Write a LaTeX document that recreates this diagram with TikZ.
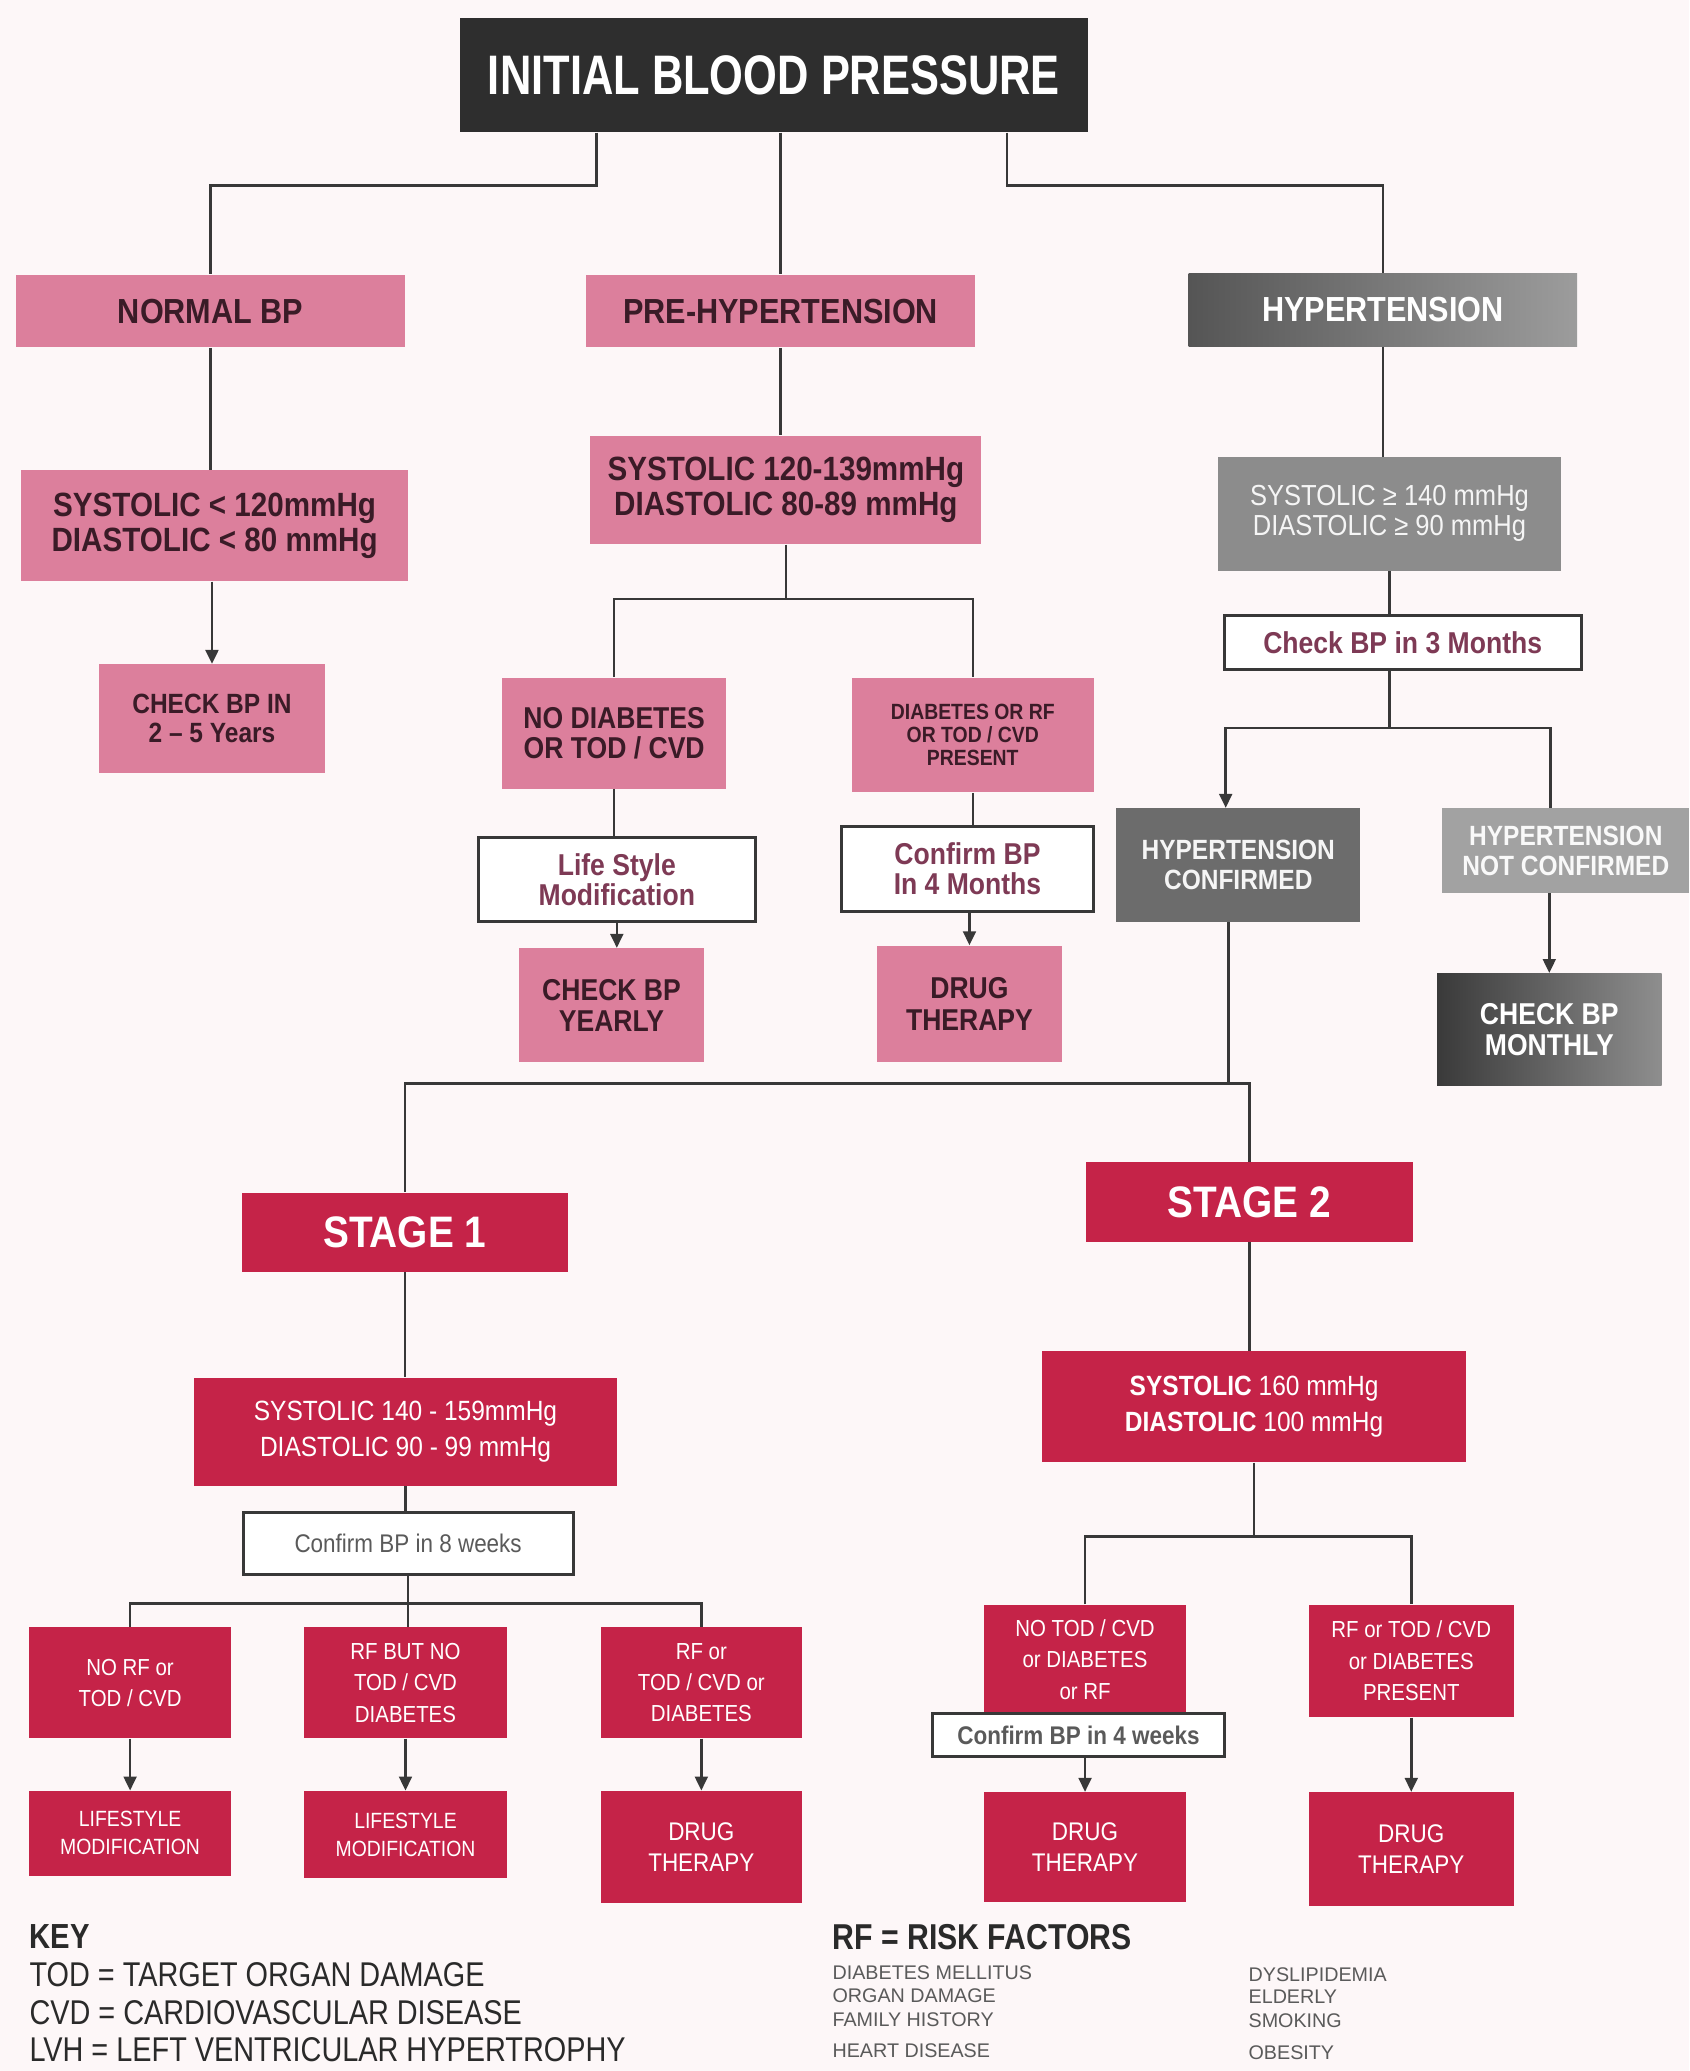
\documentclass[tikz,border=0pt]{standalone}
\usepackage{fontspec}
\setmainfont{Liberation Sans}
\newfontfamily\cf{Liberation Sans}[FakeStretch=0.88]
\newfontfamily\cft{Liberation Sans}[FakeStretch=0.78]
\newfontfamily\cfk{Liberation Sans}[FakeStretch=0.84]
\usetikzlibrary{arrows.meta,calc}
\newcommand\myfs[2]{\fontsize{#1}{#2}\selectfont}
\definecolor{bg}{HTML}{FDF7F8}
\definecolor{pinkf}{HTML}{DC7F9C}
\definecolor{crim}{HTML}{C52348}
\definecolor{lnc}{HTML}{383838}
\definecolor{darktx}{HTML}{3A1B27}
\definecolor{maroon}{HTML}{7E3A55}
\definecolor{txgray}{HTML}{5A5A5A}
\definecolor{titlec}{HTML}{2E2E2E}
\definecolor{hypl}{HTML}{555555}
\definecolor{hypr}{HTML}{9C9C9C}
\definecolor{gsys}{HTML}{8C8C8C}
\definecolor{gconf}{HTML}{6C6C6C}
\definecolor{gnot}{HTML}{A2A2A2}
\definecolor{gmonl}{HTML}{3A3A3A}
\definecolor{gmonr}{HTML}{8E8E8E}
\definecolor{keytx}{HTML}{2A2A2A}
\begin{document}
\begin{tikzpicture}[x=0.02cm,y=-0.02cm,
  sz/.style 2 args={minimum width=#1*0.02cm, minimum height=#2*0.02cm},
  bx/.style={rectangle, inner sep=0pt, align=center},
  pinkbox/.style={bx, fill=pinkf, text=darktx, font=\cf\bfseries\myfs{13}{13.5}},
  crimbox/.style={bx, fill=crim, text=white, font=\cf\myfs{10}{13.5}},
  whitebox/.style={bx, fill=white, draw=lnc, line width=1.3pt, text=maroon, font=\cf\bfseries\myfs{13}{13}},
  conn/.style={draw=lnc, line width=1.1pt},
  arr/.style={conn, -{Triangle[width=5.5pt,length=6pt]}},
  keytext/.style={anchor=base west, inner sep=0pt, text=keytx, font=\cfk\myfs{14.8}{14.8}},
  rftext/.style={anchor=base west, inner sep=0pt, text=txgray, font=\normalfont\myfs{8.5}{8.5}}
]
\useasboundingbox[fill=bg] (0,0) rectangle (1279,1568);

% top level
\node[bx, fill=titlec, text=white, font=\cft\bfseries\myfs{24}{26}, sz={476}{86}] (title) at (586,57) {INITIAL BLOOD PRESSURE};
\node[pinkbox, font=\cf\bfseries\myfs{15}{15}, sz={295}{55}] (normal) at (159.5,235.5) {NORMAL BP};
\node[pinkbox, font=\cf\bfseries\myfs{15}{15}, sz={294}{55}] (prehyp) at (591,235.5) {PRE-HYPERTENSION};
\node[bx, left color=hypl, right color=hypr, text=white, font=\cf\bfseries\myfs{15}{15}, sz={294}{55}] (hyp) at (1047,234.5) {HYPERTENSION};

% normal branch
\node[pinkbox, font=\cf\bfseries\myfs{14.5}{15}, sz={293}{84}] (sys1) at (162.5,398) {SYSTOLIC < 120mmHg\\DIASTOLIC < 80 mmHg};
\node[pinkbox, font=\cf\bfseries\myfs{12}{12.5}, sz={171}{82}] (chk25) at (160.5,544) {CHECK BP IN\\2 – 5 Years};

% pre-hypertension branch
\node[pinkbox, font=\cf\bfseries\myfs{14.5}{15}, sz={296}{82}] (sys2) at (595,371) {SYSTOLIC 120-139mmHg\\DIASTOLIC 80-89 mmHg};
\node[pinkbox, font=\cf\bfseries\myfs{13}{13}, sz={170}{84}] (nodiab) at (465,555) {NO DIABETES\\OR TOD / CVD};
\node[pinkbox, font=\cf\bfseries\myfs{9.5}{10}, sz={183}{87}] (diab) at (736.5,556.5) {DIABETES OR RF\\OR TOD / CVD\\PRESENT};
\node[whitebox, sz={210}{64}] (life) at (467,666) {Life Style\\Modification};
\node[pinkbox, sz={140}{86}] (yearly) at (463,761) {CHECK BP\\YEARLY};
\node[whitebox, sz={191}{64}] (conf4m) at (732.5,658) {Confirm BP\\In 4 Months};
\node[pinkbox, sz={140}{88}] (drug1) at (734,760) {DRUG\\THERAPY};

% hypertension branch
\node[bx, fill=gsys, text=white!92!gray, font=\cf\myfs{12.5}{13}, sz={260}{86}] (sys3) at (1052,389) {SYSTOLIC ≥ 140 mmHg\\DIASTOLIC ≥ 90 mmHg};
\node[whitebox, sz={270}{41}] (chk3m) at (1062,486.5) {Check BP in 3 Months};
\node[bx, fill=gconf, text=white!92!gray, font=\cf\bfseries\myfs{12}{13}, sz={185}{86}] (hconf) at (937.5,655) {HYPERTENSION\\CONFIRMED};
\node[bx, fill=gnot, text=white!95!gray, font=\cf\bfseries\myfs{12}{13}, sz={187}{64}] (hnot) at (1185.5,644) {HYPERTENSION\\NOT CONFIRMED};
\node[bx, left color=gmonl, right color=gmonr, text=white, font=\cf\bfseries\myfs{13}{13.5}, sz={170}{85}] (monthly) at (1173,779.5) {CHECK BP\\MONTHLY};

% stages
\node[bx, fill=crim, text=white, font=\cf\bfseries\myfs{19}{19}, sz={247}{60}] (stage1) at (306.5,933) {STAGE 1};
\node[bx, fill=crim, text=white, font=\cf\bfseries\myfs{19}{19}, sz={248}{60}] (stage2) at (946,910) {STAGE 2};

% stage 1 branch
\node[crimbox, font=\cf\myfs{12}{15.5}, sz={320}{82}] (sys4) at (307,1084) {SYSTOLIC 140 - 159mmHg\\DIASTOLIC 90 - 99 mmHg};
\node[whitebox, text=txgray, font=\cf\myfs{11}{11}, sz={250}{47}] (conf8w) at (309,1168.5) {Confirm BP in 8 weeks};
\node[crimbox, sz={153}{84}] (a1) at (98.5,1274) {NO RF or\\TOD / CVD};
\node[crimbox, sz={154}{84}] (a2) at (307,1274) {RF BUT NO\\TOD / CVD\\DIABETES};
\node[crimbox, sz={152}{84}] (a3) at (531,1274) {RF or\\TOD / CVD or\\DIABETES};
\node[crimbox, font=\cf\myfs{9.5}{12}, sz={153}{64}] (b1) at (98.5,1388) {LIFESTYLE\\MODIFICATION};
\node[crimbox, font=\cf\myfs{9.5}{12}, sz={154}{66}] (b2) at (307,1389) {LIFESTYLE\\MODIFICATION};
\node[crimbox, font=\cf\myfs{11}{13}, sz={152}{85}] (b3) at (531,1398.5) {DRUG\\THERAPY};

% stage 2 branch
\node[crimbox, font=\cf\myfs{12}{15.5}, sz={321}{84}] (sys5) at (949.5,1065) {\textbf{SYSTOLIC} 160 mmHg\\\textbf{DIASTOLIC} 100 mmHg};
\node[crimbox, sz={153}{83}] (c1) at (821.5,1256.5) {NO TOD / CVD\\or DIABETES\\or RF};
\node[whitebox, text=txgray, font=\cf\bfseries\myfs{11}{11}, sz={221}{33}] (conf4w) at (816.5,1313.5) {Confirm BP in 4 weeks};
\node[crimbox, font=\cf\myfs{11}{13}, sz={153}{83}] (d1) at (821.5,1398.5) {DRUG\\THERAPY};
\node[crimbox, sz={155}{85}] (c2) at (1068.5,1257.5) {RF or TOD / CVD\\or DIABETES\\PRESENT};
\node[crimbox, font=\cf\myfs{11}{13}, sz={155}{86}] (d2) at (1068.5,1400) {DRUG\\THERAPY};

% key
\node[keytext, font=\cfk\bfseries\myfs{15}{15}] (key) at (22,1475) {KEY};
\node[keytext] (k1) at (22,1504) {TOD = TARGET ORGAN DAMAGE};
\node[keytext] (k2) at (22,1533) {CVD = CARDIOVASCULAR DISEASE};
\node[keytext] (k3) at (22,1561) {LVH = LEFT VENTRICULAR HYPERTROPHY};
\node[keytext, font=\cfk\bfseries\myfs{15.5}{15.5}] (rf) at (630,1476) {RF = RISK FACTORS};
\node[rftext] (r1) at (630,1499) {DIABETES MELLITUS};
\node[rftext] (r2) at (630,1516) {ORGAN DAMAGE};
\node[rftext] (r3) at (630,1534) {FAMILY HISTORY};
\node[rftext] (r4) at (630,1558) {HEART DISEASE};
\node[rftext] (r5) at (945,1500) {DYSLIPIDEMIA};
\node[rftext] (r6) at (945,1517) {ELDERLY};
\node[rftext] (r7) at (945,1535) {SMOKING};
\node[rftext] (r8) at (945,1559) {OBESITY};

% connectors
\draw[conn] ($(title.south west)+(104,0)$) -- ++(0,40) -| (normal.north);
\draw[conn] (title.south -| prehyp.north) -- (prehyp.north);
\draw[conn] ($(title.south east)+(-62,0)$) -- ++(0,40) -| (hyp.north);
\draw[conn] (normal.south) -- (normal.south |- sys1.north);
\draw[arr] (sys1.south -| chk25.north) -- (chk25.north);
\draw[conn] (prehyp.south) -- (prehyp.south |- sys2.north);
\draw[conn] (sys2.south) -- ++(0,41) coordinate (j1);
\draw[conn] (nodiab.north) |- (j1) -| (diab.north);
\draw[conn] (nodiab.south) -- (nodiab.south |- life.north);
\draw[arr] (life.south) -- (life.south |- yearly.north);
\draw[conn] (diab.south) -- (diab.south |- conf4m.north);
\draw[arr] (conf4m.south -| drug1.north) -- (drug1.north);
\draw[conn] (hyp.south) -- (hyp.south |- sys3.north);
\draw[conn] (sys3.south) -- (sys3.south |- chk3m.north);
\draw[conn] (chk3m.south -| sys3.south) -- ++(0,43) coordinate (j2);
\coordinate (hca) at ($(hconf.north)+(-9.5,0)$);
\coordinate (hna) at ($(hnot.north)+(-11.5,0)$);
\draw[arr] (j2) -| (hca);
\draw[conn] (j2) -| (hna);
\draw[arr] (hnot.south -| monthly.north) -- (monthly.north);
\draw[conn] ($(hconf.south)+(-7.5,0)$) -- ++(0,122) coordinate (j3);
\draw[conn] (stage1.north) |- (j3) -| (stage2.north);
\draw[conn] (stage1.south) -- (stage1.south |- sys4.north);
\draw[conn] (sys4.south) -- (sys4.south |- conf8w.north);
\draw[conn] (conf8w.south) -- ++(0,21) coordinate (j4);
\draw[conn] (a1.north) |- (j4) -| (a3.north);
\draw[conn] (j4) -- (j4 |- a2.north);
\draw[arr] (a1.south) -- (b1.north);
\draw[arr] (a2.south) -- (b2.north);
\draw[arr] (a3.south) -- (b3.north);
\draw[conn] (stage2.south) -- (stage2.south |- sys5.north);
\draw[conn] (sys5.south) -- ++(0,56) coordinate (j5);
\draw[conn] (c1.north) |- (j5) -| (c2.north);
\draw[arr] (conf4w.south -| d1.north) -- (d1.north);
\draw[arr] (c2.south) -- (d2.north);
\end{tikzpicture}
\end{document}
